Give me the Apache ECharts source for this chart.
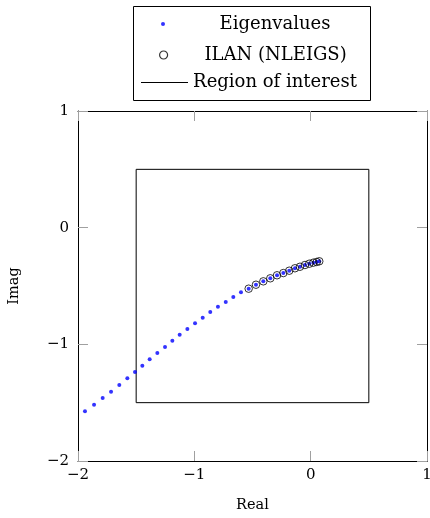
<!DOCTYPE html>
<html>
<head>
<meta charset="utf-8">
<script src="https://cdn.jsdelivr.net/npm/echarts@6/dist/echarts.min.js"></script>
<style>html,body{margin:0;padding:0;background:#fff}#c{width:430px;height:518px}</style>
</head>
<body>
<div id="c"></div>
<script>
// Data
const eigReal = [-1.940,-1.862,-1.788,-1.716,-1.645,-1.576,-1.510,-1.447,-1.384,-1.318,-1.252,-1.189,-1.126,-1.060,-0.994,-0.928,-0.863,-0.797,-0.730,-0.665,-0.599,-0.533,-0.470,-0.407,-0.347,-0.289,-0.235,-0.184,-0.135,-0.092,-0.049,-0.012,0.023,0.052,0.074];
const eigImag = [-1.574,-1.517,-1.460,-1.406,-1.349,-1.291,-1.237,-1.183,-1.128,-1.074,-1.023,-0.969,-0.917,-0.869,-0.820,-0.772,-0.723,-0.677,-0.637,-0.594,-0.554,-0.523,-0.489,-0.460,-0.434,-0.408,-0.389,-0.369,-0.348,-0.335,-0.320,-0.309,-0.300,-0.294,-0.288];
const ilanReal = [-0.533,-0.470,-0.407,-0.347,-0.289,-0.235,-0.184,-0.135,-0.092,-0.049,-0.012,0.023,0.052,0.074];
const ilanImag = [-0.523,-0.489,-0.460,-0.434,-0.408,-0.389,-0.369,-0.348,-0.335,-0.320,-0.309,-0.300,-0.294,-0.288];
const regionReal = [-1.5,0.5,0.5,-1.5,-1.5];
const regionImag = [-1.5,-1.5,0.5,0.5,-1.5];
const xTicks = [-2,-1,0,1];
const yTicks = [-2,-1,0,1];
const seriesNames = ['Eigenvalues','ILAN (NLEIGS)','Region of interest'];
const xName = 'Real', yName = 'Imag';

const FONT = 'DejaVu Serif';
const zip = (a,b) => a.map((v,i)=>[v,b[i]]);
const fmt = v => String(v).replace('-', '\u2212');

const chart = echarts.init(document.getElementById('c'), null, {renderer:'canvas'});
const tickStyle = {show:true, inside:true, length:10, lineStyle:{color:'#a0a0a0', width:1}};
const lineAx = {show:true, onZero:false, lineStyle:{color:'#000', width:1}};
const TEXT_CENTER = 275;
const legendBase = (item, left, top, iw, ih, itemStyle) => ({
  data:[item], selectedMode:false, orient:'horizontal', left:left, top:top,
  padding:0, itemWidth:iw, itemHeight:ih, itemStyle:itemStyle,
  formatter: n => '{t|' + n + '}',
  textStyle:{rich:{t:{fontFamily:FONT, fontSize:18, color:'#000',
    width:2*(TEXT_CENTER-(left+iw+5)), align:'center', lineHeight:22}}}
});
chart.setOption({
  animation:false,
  textStyle:{fontFamily:FONT},
  grid:{left:78, right:3, top:111, bottom:57, containLabel:false, outerBoundsMode:'none'},
  graphic:[{type:'rect', z:-1, shape:{x:133.5, y:6.5, width:237, height:94}, style:{fill:'none', stroke:'#000', lineWidth:1}}],
  legend:[
    legendBase({name:seriesNames[0], icon:'circle'}, 161, 15, 4, 4, {color:'#0000ff'}),
    legendBase({name:seriesNames[1], icon:'circle'}, 159, 46, 8, 8, {color:'#fff', borderColor:'#000', borderWidth:1.2}),
    legendBase({name:seriesNames[2], icon:'rect'}, 141, 73.5, 47, 1, {color:'#000', borderWidth:0})
  ],
  xAxis:[
    {type:'value', min:xTicks[0], max:xTicks[xTicks.length-1], interval:1, position:'bottom',
     axisLine:lineAx, axisTick:tickStyle, splitLine:{show:false},
     axisLabel:{formatter:fmt, fontFamily:FONT, fontSize:15, color:'#000', margin:7},
     name:xName, nameLocation:'middle', nameGap:37, nameTextStyle:{fontFamily:FONT, fontSize:14.5, color:'#000'}},
    {type:'value', min:xTicks[0], max:xTicks[xTicks.length-1], interval:1, position:'top',
     axisLine:lineAx, axisTick:tickStyle, splitLine:{show:false}, axisLabel:{show:false}}
  ],
  yAxis:[
    {type:'value', min:yTicks[0], max:yTicks[yTicks.length-1], interval:1, position:'left',
     axisLine:lineAx, axisTick:tickStyle, splitLine:{show:false},
     axisLabel:{formatter:fmt, fontFamily:FONT, fontSize:15, color:'#000', margin:9},
     name:yName, nameLocation:'middle', nameGap:56, nameTextStyle:{fontFamily:FONT, fontSize:14.5, color:'#000'}},
    {type:'value', min:yTicks[0], max:yTicks[yTicks.length-1], interval:1, position:'right',
     axisLine:lineAx, axisTick:tickStyle, splitLine:{show:false}, axisLabel:{show:false}}
  ],
  series:[
    {name:seriesNames[0], type:'scatter', data:zip(eigReal, eigImag), symbol:'circle', symbolSize:4,
     itemStyle:{color:'#0000ff'}, silent:true, z:3},
    {name:seriesNames[1], type:'scatter', data:zip(ilanReal, ilanImag), symbol:'circle', symbolSize:7.5,
     itemStyle:{color:'rgba(0,0,0,0)', borderColor:'#000', borderWidth:1}, silent:true, z:4},
    {name:seriesNames[2], type:'line', data:zip(regionReal, regionImag), symbol:'none', showSymbol:false,
     lineStyle:{color:'#000', width:1}, itemStyle:{color:'#000'}, silent:true, z:2}
  ]
});
</script>
</body>
</html>
